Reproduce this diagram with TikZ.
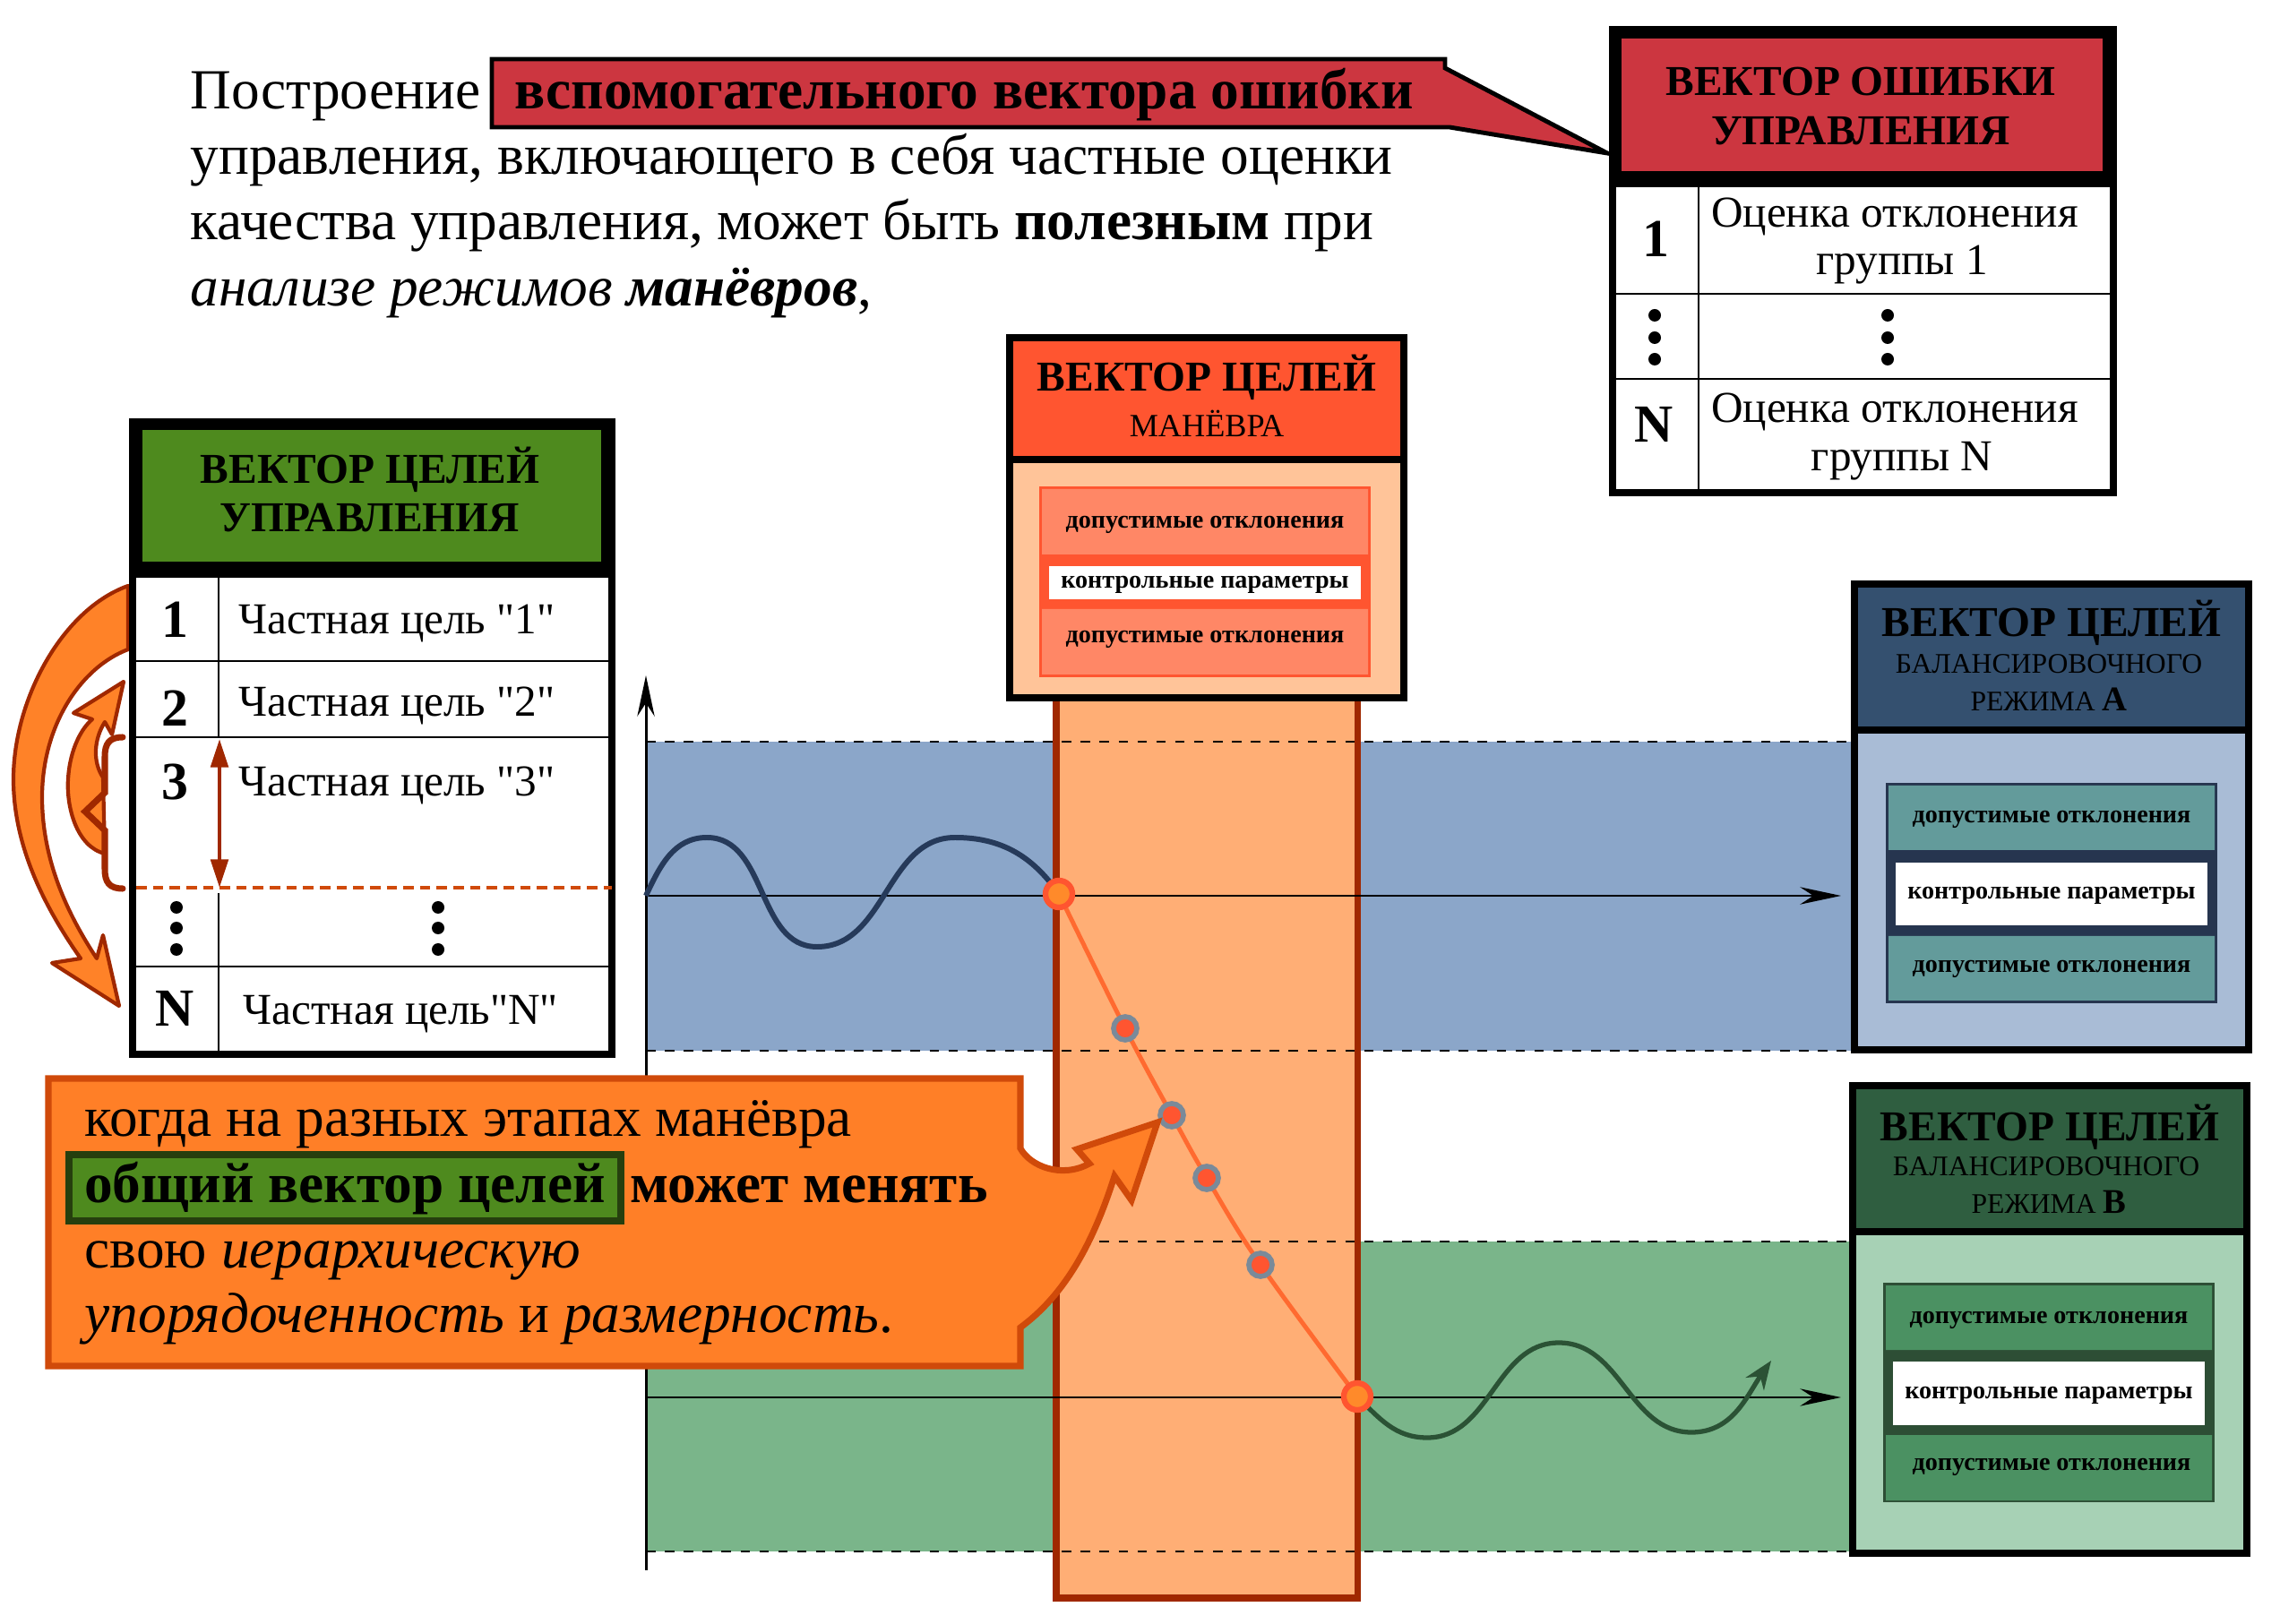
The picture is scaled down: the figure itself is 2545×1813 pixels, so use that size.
\documentclass[tikz,border=0pt]{standalone}
\usepackage{fontspec}
\setmainfont{Liberation Serif}
\newfontfamily\rowfont{Liberation Serif}[Ligatures=TeXOff]
\usetikzlibrary{arrows.meta}

\definecolor{errred}{HTML}{CC3640}
\definecolor{goalgreen}{HTML}{4E8A1E}
\definecolor{goaldark}{HTML}{263F0E}
\definecolor{manhead}{HTML}{FF5530}
\definecolor{manbody}{HTML}{FFC499}
\definecolor{manbar}{HTML}{FF8766}
\definecolor{colfill}{HTML}{FFAE75}
\definecolor{coledge}{HTML}{A02800}
\definecolor{bandA}{HTML}{8BA6C9}
\definecolor{headA}{HTML}{34506F}
\definecolor{bodyA}{HTML}{A9BCD6}
\definecolor{stackA}{HTML}{26354F}
\definecolor{barA}{HTML}{639B9B}
\definecolor{bandB}{HTML}{7AB58A}
\definecolor{headB}{HTML}{2F5E40}
\definecolor{bodyB}{HTML}{A7D1B5}
\definecolor{stackB}{HTML}{2D4E35}
\definecolor{barB}{HTML}{4B9162}
\definecolor{noteorange}{HTML}{FF7F27}
\definecolor{noteedge}{HTML}{D04A0A}
\definecolor{turnorange}{HTML}{FF8228}
\definecolor{waveA}{HTML}{263A5A}
\definecolor{waveB}{HTML}{2B5235}
\definecolor{trajred}{HTML}{FF6A30}
\definecolor{dotred}{HTML}{FF5530}
\definecolor{dotgray}{HTML}{7A8A99}
\definecolor{dotorange}{HTML}{FF8A2A}

\newcommand\bigtxt{\fontsize{18pt}{21pt}\selectfont}
\newcommand\hdrtxt{\fontsize{13.5pt}{15pt}\selectfont}
\newcommand\subtxt{\fontsize{9pt}{10pt}\selectfont}
\newcommand\mantxt{\fontsize{10.3pt}{11pt}\selectfont}
\newcommand\rowtxt{\rowfont\fontsize{14pt}{15pt}\selectfont}
\newcommand\numtxt{\fontsize{17pt}{18pt}\selectfont}
\newcommand\bartxt{\fontsize{8pt}{9pt}\selectfont}

\begin{document}
\begin{tikzpicture}[x=0.01cm,y=0.01cm,
  txt/.style={font=\bigtxt,anchor=base west,inner sep=0pt},
  hdr/.style={font=\hdrtxt\bfseries,anchor=base,inner sep=0pt},
  subtext/.style={font=\subtxt,anchor=base,inner sep=0pt},
  rowtext/.style={font=\rowtxt,anchor=base,inner sep=0pt},
  numtext/.style={font=\numtxt\bfseries,anchor=base,inner sep=0pt},
  bartext/.style={font=\bartxt\bfseries,anchor=base,inner sep=0pt},
  boxframe/.style={line width=2.3pt},
  gridline/.style={line width=0.8pt},
  bandedge/.style={dashed,line width=0.5pt},
  axisline/.style={-{Stealth[length=13pt,width=5.5pt]},line width=0.85pt},
  middot/.style={circle,fill=dotred,draw=dotgray,line width=1.6pt,minimum size=0.26cm,inner sep=0pt},
  enddot/.style={circle,fill=dotorange,draw=dotred,line width=1.8pt,minimum size=0.30cm,inner sep=0pt},
  turnarrow/.style={fill=turnorange,draw=coledge,line width=1.2pt,line join=round},
  goalbox/.style={font=\bigtxt\bfseries,anchor=base west,fill=goalgreen,draw=goaldark,line width=2.3pt,
    inner xsep=0.17cm,inner ysep=0pt,text height=0.53cm,text depth=0.21cm},
]
\useasboundingbox (0,0) rectangle (2545,-1813);

\fill[bandA] (721,-828) rectangle (2070,-1173);
\fill[bandB] (721,-1386) rectangle (2070,-1732);
\draw[fill=colfill,draw=coledge,line width=2pt] (1179,-779) rectangle (1515,-1784);
\foreach \y in {828,1173,1386,1732} \draw[bandedge] (721,-\y) -- (2066,-\y);

\coordinate (o) at (721,-1753);
\coordinate (vtop) at (721,-754);
\coordinate (aA) at (721,-1000);
\coordinate (aAend) at (2055,-1000);
\coordinate (aB) at (721,-1560);
\coordinate (aBend) at (2055,-1560);
\draw[axisline] (o) -- (vtop);
\draw[axisline] (aA) -- (aAend);
\draw[axisline] (aB) -- (aBend);

\coordinate (p0) at (1182,-998);
\coordinate (p1) at (1256,-1148);
\coordinate (p2) at (1308,-1245);
\coordinate (p3) at (1347,-1315);
\coordinate (p4) at (1407,-1412);
\coordinate (p5) at (1515,-1559);
\coordinate (wend) at (1977,-1519);
\draw[waveA,line width=1.7pt] (aA) to[out=65,in=180] (789,-935) to[out=0,in=180] (912,-1057)
  to[out=0,in=180] (1066,-935) to[out=0,in=125] (p0);
\draw[trajred,line width=1.4pt] plot[smooth,tension=0.6] coordinates {(p0) (p1) (p2) (p3) (p4) (p5)};
\draw[waveB,line width=1.5pt,-{Stealth[length=9pt,width=7pt]}] (p5) to[out=-45,in=180] (1593,-1605)
  to[out=0,in=180] (1740,-1499) to[out=0,in=180] (1888,-1599) to[out=0,in=-125] (wend);
\node[enddot] (m0) at (p0) {};
\foreach \i in {1,...,4} \node[middot] (m\i) at (p\i) {};
\node[enddot] (m5) at (p5) {};

\fill[manbody] (1127,-513) rectangle (1567,-779);
\fill[manhead] (1127,-377) rectangle (1567,-513);
\draw[boxframe] (1127,-377) rectangle (1567,-779) (1127,-513) -- (1567,-513);
\fill[manhead] (1160,-543) rectangle (1530,-756);
\fill[manbar] (1163,-546) rectangle (1527,-619) (1163,-680) rectangle (1527,-753);
\fill[white] (1171,-632) rectangle (1519,-669);
\node[hdr] (manh1) at (1347,-437) {ВЕКТОР ЦЕЛЕЙ};
\node[subtext,font=\mantxt] (manh2) at (1347,-488) {МАНЁВРА};
\node[bartext] (manb1) at (1345,-590) {допустимые отклонения};
\node[bartext] (manb2) at (1345,-657) {контрольные параметры};
\node[bartext] (manb3) at (1345,-718) {допустимые отклонения};

\fill[bodyA] (2070,-815) rectangle (2510,-1172);
\fill[headA] (2070,-652) rectangle (2510,-815);
\draw[boxframe] (2070,-652) rectangle (2510,-1172) (2070,-815) -- (2510,-815);
\fill[stackA] (2105,-874) rectangle (2475,-1120);
\fill[barA] (2108,-877) rectangle (2472,-949) (2108,-1045) rectangle (2472,-1117);
\fill[white] (2116,-963) rectangle (2464,-1033);
\node[hdr] (ah1) at (2290,-711) {ВЕКТОР ЦЕЛЕЙ};
\node[subtext] (ah2) at (2287,-752) {БАЛАНСИРОВОЧНОГО};
\node[subtext] (ah3) at (2287,-794) {РЕЖИМА {\fontsize{11pt}{11pt}\selectfont\bfseries A}};
\node[bartext] (ab1) at (2290,-919) {допустимые отклонения};
\node[bartext] (ab2) at (2290,-1004) {контрольные параметры};
\node[bartext] (ab3) at (2290,-1086) {допустимые отклонения};

\fill[bodyB] (2068,-1375) rectangle (2508,-1734);
\fill[headB] (2068,-1212) rectangle (2508,-1375);
\draw[boxframe] (2068,-1212) rectangle (2508,-1734) (2068,-1375) -- (2508,-1375);
\fill[stackB] (2102,-1432) rectangle (2472,-1677);
\fill[barB] (2105,-1435) rectangle (2469,-1507) (2105,-1602) rectangle (2469,-1675);
\fill[white] (2113,-1520) rectangle (2461,-1591);
\node[hdr] (bh1) at (2288,-1273) {ВЕКТОР ЦЕЛЕЙ};
\node[subtext] (bh2) at (2284,-1312) {БАЛАНСИРОВОЧНОГО};
\node[subtext] (bh3) at (2287,-1354) {РЕЖИМА {\fontsize{11pt}{11pt}\selectfont\bfseries B}};
\node[bartext] (bb1) at (2287,-1477) {допустимые отклонения};
\node[bartext] (bb2) at (2287,-1561) {контрольные параметры};
\node[bartext] (bb3) at (2290,-1641) {допустимые отклонения};

\draw[fill=errred,line width=1.4pt,line join=miter] (549,-66) -- (1613,-66) -- (1613,-76) -- (1794,-171)
  -- (1618,-142) -- (549,-142) -- cycle;
\node[txt] (t1) at (212,-122) {Построение};
\node[txt,font=\bigtxt\bfseries] (t1b) at (574,-122) {вспомогательного вектора ошибки};
\node[txt] (t2) at (212,-195) {управления, включающего в себя частные оценки};
\node[txt] (t3) at (212,-268) {качества управления, может быть \textbf{полезным} при};
\node[txt] (t4) at (212,-342) {\textit{анализе режимов \textbf{манёвров}},};

\fill (1796,-29) rectangle (2363,-205);
\fill[errred] (1810,-43) rectangle (2347,-191);
\draw[boxframe] (1800,-205) rectangle (2359,-550);
\draw[gridline] (1800,-328) -- (2359,-328) (1800,-423) -- (2359,-423) (1896,-205) -- (1896,-550);
\node[hdr] (eh1) at (2077,-107) {ВЕКТОР ОШИБКИ};
\node[hdr] (eh2) at (2077,-162) {УПРАВЛЕНИЯ};
\node[numtext] (en1) at (1848,-287) {1};
\node[rowtext] (er1a) at (2115,-254) {Оценка отклонения};
\node[rowtext] (er1b) at (2123,-307) {группы 1};
\foreach \y in {352,377,401} {\fill (1847,-\y) circle (7); \fill (2107,-\y) circle (7);}
\node[numtext] (enN) at (1846,-494) {N};
\node[rowtext] (erNa) at (2115,-472) {Оценка отклонения};
\node[rowtext] (erNb) at (2123,-526) {группы N};

\draw[turnarrow] (143,-654) .. controls (70,-680) and (15,-780) .. (15,-870)
  .. controls (15,-950) and (55,-1020) .. (90,-1070) -- (58,-1075) -- (133,-1123) -- (115,-1044)
  -- (108,-1070) .. controls (75,-1020) and (47,-960) .. (47,-890)
  .. controls (47,-810) and (90,-745) .. (143,-725) -- cycle;
\draw[turnarrow] (117,-953) .. controls (85,-945) and (74,-900) .. (76,-870)
  .. controls (78,-835) and (92,-812) .. (103,-803) -- (82,-796) -- (138,-761) -- (125,-820)
  -- (117,-806) .. controls (105,-825) and (103,-850) .. (115,-868) -- cycle;
\draw[coledge,line width=2pt,line cap=round] (137,-823) .. controls (122,-823) and (117,-830) .. (117,-845)
  -- (117,-885) -- (95,-906) -- (117,-927) -- (117,-970) .. controls (117,-985) and (122,-992) .. (137,-992);

\fill (144,-467) rectangle (687,-641);
\fill[goalgreen] (159,-480) rectangle (671,-627);
\draw[boxframe] (148,-641) rectangle (683,-1177);
\draw[gridline] (148,-738) -- (683,-738) (148,-823) -- (683,-823) (148,-1079) -- (683,-1079)
  (244,-641) -- (244,-823) (244,-997) -- (244,-1177);
\draw[noteedge,line width=0.9pt,dash pattern=on 3.3pt off 2pt] (152,-991) -- (683,-991);
\coordinate (r3top) at (245,-825);
\coordinate (r3bot) at (245,-991);
\draw[coledge,line width=1.2pt,{Triangle[length=9pt,width=5.5pt]}-{Triangle[length=9pt,width=5.5pt]}] (r3top) -- (r3bot);
\node[hdr] (gh1) at (413,-540) {ВЕКТОР ЦЕЛЕЙ};
\node[hdr] (gh2) at (413,-594) {УПРАВЛЕНИЯ};
\node[numtext] (gn1) at (195,-712) {1};
\node[numtext] (gn2) at (195,-811) {2};
\node[numtext] (gn3) at (195,-893) {3};
\node[numtext] (gnN) at (195,-1146) {N};
\node[rowtext,anchor=base west] (gr1) at (266,-708) {Частная цель "1"};
\node[rowtext,anchor=base west] (gr2) at (266,-800) {Частная цель "2"};
\node[rowtext,anchor=base west] (gr3) at (266,-889) {Частная цель "3"};
\node[rowtext,anchor=base west] (grN) at (271,-1143) {Частная цель"N"};
\foreach \y in {1013,1036,1060} {\fill (197,-\y) circle (7); \fill (489,-\y) circle (7);}

\draw[fill=noteorange,draw=noteedge,line width=2pt,line join=miter] (54,-1204) -- (1139,-1204) -- (1139,-1282)
  .. controls (1150,-1302) and (1185,-1316) .. (1216,-1299) -- (1202,-1283) -- (1292,-1253) -- (1263,-1340)
  -- (1244,-1313) .. controls (1218,-1395) and (1185,-1448) .. (1139,-1482) -- (1139,-1525) -- (54,-1525) -- cycle;
\node[txt] (c1) at (94,-1268) {когда на разных этапах манёвра};
\node[goalbox] (c2) at (73,-1342) {общий вектор целей};
\node[txt,font=\bigtxt\bfseries] (c2b) at ([xshift=0.06cm]c2.base east) {может менять};
\node[txt] (c3) at (94,-1415) {свою \textit{иерархическую}};
\node[txt] (c4) at (94,-1487) {\textit{упорядоченность} и \textit{размерность}.};
\end{tikzpicture}
\end{document}
